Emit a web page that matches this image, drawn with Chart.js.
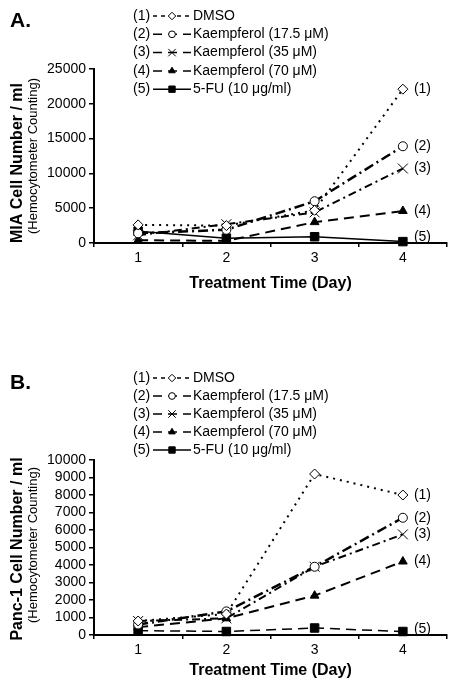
<!DOCTYPE html>
<html>
<head>
<meta charset="utf-8">
<script src="https://cdn.jsdelivr.net/npm/chart.js@4.4.1/dist/chart.umd.min.js"></script>
<style>
  body { margin: 0; background: #fff; }
  .panel { position: absolute; left: 0; width: 456px; }
</style>
</head>
<body>
<div class="panel" style="top:0;height:300px"><canvas id="miaChart" width="456" height="300"></canvas></div>
<div class="panel" style="top:340px;height:352px"><canvas id="pancChart" width="456" height="352"></canvas></div>
<script>
// Data
const days = ['1', '2', '3', '4'];
const seriesNames = ['DMSO', 'Kaempferol (17.5 \u03BCM)', 'Kaempferol (35 \u03BCM)', 'Kaempferol (70 \u03BCM)', '5-FU (10 \u03BCg/ml)'];

const miaDmso = [2600, 2500, 4700, 22100];
const miaK175 = [1400, 1900, 6000, 13900];
const miaK35 = [1100, 2700, 4400, 10700];
const miaK70 = [400, 300, 3000, 4600];
const miaFu = [1700, 700, 900, 200];
const miaTicks = [0, 5000, 10000, 15000, 20000, 25000];

const pancDmso = [800, 1200, 9200, 8000];
const pancK175 = [600, 1350, 3900, 6700];
const pancK35 = [800, 950, 3900, 5750];
const pancK70 = [450, 950, 2250, 4200];
const pancFu = [250, 200, 400, 200];
const pancTicks = [0, 1000, 2000, 3000, 4000, 5000, 6000, 7000, 8000, 9000, 10000];

const FONT = '"Liberation Sans", Arial, Helvetica, sans-serif';
Chart.defaults.font.family = FONT;
Chart.defaults.color = '#000';

// line look per series
const styles = [
    { dash: [2, 5], width: 2, point: 'rectRot', radius: 5, fill: '#fff' },
    { dash: [10, 4, 2, 4], width: 2.5, point: 'circle', radius: 4.5, fill: '#fff' },
    { dash: [8, 4, 2, 4], width: 2, point: 'crossRot', radius: 7, fill: '#fff' },
    { dash: [10, 6], width: 2, point: 'triangle', radius: 5, fill: '#000' },
    { dash: [], width: 1.5, point: 'rect', radius: 6, fill: '#000' }
];

function makeDatasets(values, fuDash) {
    return values.map((data, i) => {
        const s = styles[i];
        return {
            label: seriesNames[i],
            data: data,
            borderColor: '#000',
            borderWidth: s.width,
            borderDash: i === 4 ? fuDash : s.dash,
            pointStyle: s.point,
            pointRadius: s.radius,
            pointBorderWidth: 1,
            pointBackgroundColor: s.fill,
            pointBorderColor: '#000',
            tension: 0,
            fill: false,
            clip: false
        };
    });
}

// letters, axis titles, legend and (n) labels
const decor = {
    id: 'decor',
    afterDraw(chart, args, opts) {
        const ctx = chart.ctx;
        const area = chart.chartArea;
        ctx.save();
        ctx.fillStyle = '#000';
        ctx.strokeStyle = '#000';
        ctx.textBaseline = 'middle';

        ctx.font = 'bold 21px ' + FONT;
        ctx.textAlign = 'left';
        ctx.fillText(opts.letter, 10, opts.letterY);

        ctx.textAlign = 'center';
        ctx.save();
        ctx.translate(18, opts.titleY);
        ctx.rotate(-Math.PI / 2);
        ctx.font = 'bold 16px ' + FONT;
        ctx.fillText(opts.title, 0, 0);
        ctx.restore();
        ctx.save();
        ctx.translate(33, opts.subY);
        ctx.rotate(-Math.PI / 2);
        ctx.font = '13px ' + FONT;
        ctx.fillText('(Hemocytometer Counting)', 0, 0);
        ctx.restore();

        ctx.font = '14px ' + FONT;
        ctx.textAlign = 'left';
        chart.data.datasets.forEach((ds, i) => {
            const y = opts.legendY + i * opts.legendStep;
            const s = styles[i];
            ctx.fillText('(' + (i + 1) + ')', 133, y);
            ctx.fillText(ds.label, 193, y);
            ctx.beginPath();
            ctx.lineWidth = 1.5;
            ctx.setLineDash(i === 4 ? [] : (i === 0 ? [4, 4] : [9, 6]));
            ctx.moveTo(153, y);
            ctx.lineTo(191, y);
            ctx.stroke();
            ctx.setLineDash([]);
            ctx.fillStyle = s.fill;
            ctx.lineWidth = 1;
            Chart.helpers.drawPoint(ctx, { pointStyle: s.point, radius: s.radius * 0.75, borderWidth: 1, rotation: 0 }, 172, y);
            ctx.fillStyle = '#000';
        });

        chart.data.datasets.forEach((ds, i) => {
            const pts = chart.getDatasetMeta(i).data;
            const p = pts[pts.length - 1];
            ctx.fillText('(' + (i + 1) + ')', p.x + 11, Math.min(p.y, area.bottom - 6));
        });
        ctx.restore();
    }
};

function makeChart(id, datasets, ticks, top, xHeight, titleBottom, decorOpts) {
    const ctx = document.getElementById(id).getContext('2d');
    return new Chart(ctx, {
        type: 'line',
        data: { labels: days, datasets: datasets },
        options: {
            responsive: false,
            animation: false,
            devicePixelRatio: 1,
            layout: { padding: { top: top, right: 9, left: 0, bottom: 0 } },
            scales: {
                x: {
                    offset: true,
                    grid: { display: true, offset: true, drawOnChartArea: false, drawTicks: true, tickLength: 4, color: '#000', lineWidth: 1.5 },
                    border: { display: true, color: '#000', width: 2 },
                    ticks: { font: { size: 14 }, padding: 3, color: '#000' },
                    title: { display: true, text: 'Treatment Time (Day)', font: { size: 16, weight: 'bold' }, padding: { top: 0, bottom: titleBottom } },
                    afterFit: (scale) => { scale.height = xHeight; }
                },
                y: {
                    min: ticks[0],
                    max: ticks[ticks.length - 1],
                    afterBuildTicks: (scale) => { scale.ticks = ticks.map(v => ({ value: v })); },
                    grid: { display: true, drawOnChartArea: false, drawTicks: true, tickLength: 5, color: '#000', lineWidth: 1.5 },
                    border: { display: true, color: '#000', width: 2 },
                    ticks: { font: { size: 14 }, padding: 3, color: '#000', autoSkip: false, callback: (v) => String(v) },
                    afterFit: (scale) => { scale.width = 94; }
                }
            },
            plugins: {
                legend: { display: false },
                tooltip: { enabled: false },
                decor: decorOpts
            }
        },
        plugins: [decor]
    });
}

makeChart('miaChart',
    makeDatasets([miaDmso, miaK175, miaK35, miaK70, miaFu], []),
    miaTicks, 69, 57, 7,
    { letter: 'A.', letterY: 21, title: 'MIA Cell Number / ml', titleY: 163, subY: 156, legendY: 16, legendStep: 18.3 });

makeChart('pancChart',
    makeDatasets([pancDmso, pancK175, pancK35, pancK70, pancFu], [10, 6]),
    pancTicks, 120, 57, 12,
    { letter: 'B.', letterY: 43, title: 'Panc-1 Cell Number / ml', titleY: 209, subY: 205, legendY: 38, legendStep: 18 });
</script>
</body>
</html>
